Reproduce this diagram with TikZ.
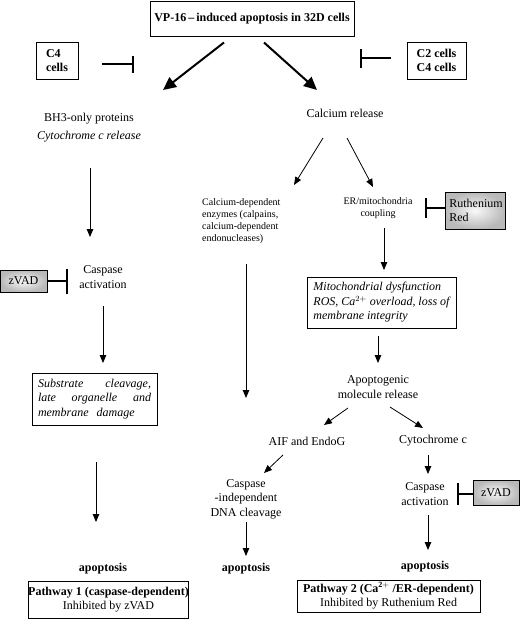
\documentclass[tikz,border=0pt]{standalone}
\usepackage{amsmath}
\usepackage{fontspec}
\setmainfont{Liberation Serif}
\usetikzlibrary{arrows.meta}

\tikzset{
  box/.style={draw, line width=0.8pt, inner sep=0pt, align=center},
  greybox/.style={draw, line width=0.8pt, inner sep=0pt, align=left,
    inner color=gray!5, outer color=gray!55},
  txt/.style={inner sep=1pt, align=center,
    font=\fontsize{12}{14.5}\selectfont},
  small/.style={inner sep=1pt,
    font=\fontsize{10}{12}\selectfont},
  bigarrow/.style={line width=2pt, -{Triangle[length=13pt,width=12pt]}},
  arrow/.style={line width=0.8pt, -{Triangle[length=8pt,width=6.5pt]}},
  inhib/.style={line width=1.4pt, -{Bar[width=#1, line width=2.3pt]}},
  inhib/.default=20pt
}

\begin{document}
\begin{tikzpicture}[x=1pt, y=-1pt, font=\fontsize{12}{14.5}\selectfont]
	\useasboundingbox (0,0) rectangle (520,619);

	% top of the scheme
	\node[box, minimum width=204, minimum height=35] (top) at (252,18.5)
	   {\textbf{VP-16\,--\,induced apoptosis in 32D cells}};
	\node[box, minimum width=42, minimum height=37, align=left] (c4) at (57,60.5)
	   {\textbf{C4}\\\textbf{cells}};
	\node[box, minimum width=59, minimum height=37, align=left] (c2) at (436.5,60.5)
	   {\textbf{C2 cells}\\\textbf{C4 cells}};

	\node[txt, font=\fontsize{12}{18}\selectfont] (bh3) at (89,128)
	   {BH3-only proteins\\\textit{Cytochrome c release}};
	\node[txt] (calc) at (345,113) {Calcium release};

	\draw[bigarrow] ([xshift=-28pt,yshift=-24pt]top.center) -- ([xshift=74pt,yshift=38pt]bh3.center);
	\draw[bigarrow] ([xshift=12pt,yshift=-24pt]top.center) -- ([xshift=-28pt,yshift=23pt]calc.center);
	\draw[inhib=17pt] ([xshift=45pt,yshift=-3.5pt]c4.center) -- ([xshift=77pt,yshift=-3.5pt]c4.center);
	\draw[inhib=19pt] ([xshift=-45.5pt,yshift=2.5pt]c2.center) -- ([xshift=-76.5pt,yshift=2.5pt]c2.center);

	% pathway 1, left
	\node[txt] (casp1) at (103,277) {Caspase\\activation};
	\node[greybox, minimum width=47, minimum height=22, align=center] (zvad1) at (23.5,281) {zVAD};
	\node[box, minimum width=125, minimum height=52, align=left,
	      text width=113, font=\fontsize{12}{14.5}\selectfont\itshape] (sub) at (94.5,399)
	   {Substrate\hfill cleavage,\\late\hfill organelle\hfill and\\membrane\ \ damage};
	\node[txt] (apo1) at (103,569) {\textbf{apoptosis}};
	\node[box, minimum width=151, minimum height=37] (path1) at (108.5,599.5)
	   {\textbf{Pathway 1 (caspase-dependent)}\\Inhibited by zVAD};

	\draw[arrow] ([xshift=1pt,yshift=-40pt]bh3.center) -- ([xshift=-13pt,yshift=40pt]casp1.center);
	\draw[inhib=25pt] (zvad1.east) -- ([xshift=44.5pt]zvad1.center);
	\draw[arrow] ([yshift=-29pt]casp1.center) -- ([xshift=8.5pt,yshift=36pt]sub.center);
	\draw[arrow] ([xshift=1.5pt,yshift=-63pt]sub.center) -- ([xshift=-7pt,yshift=47pt]apo1.center);

	% middle branch
	\node[small, anchor=west, align=left] (enz) at (201,221)
	   {Calcium-dependent\\enzymes (calpains,\\calcium-dependent\\endonucleases)};
	\node[txt] (indep) at (246,499) {Caspase\\-independent\\DNA cleavage};
	\node[txt] (apo2) at (246,569) {\textbf{apoptosis}};

	\draw[arrow] ([xshift=-22pt,yshift=-25pt]calc.center) -- ([xshift=93pt,yshift=36pt]enz.west);
	\draw[arrow] ([xshift=45pt,yshift=-43pt]enz.west) -- ([yshift=101pt]indep.center);
	\draw[arrow] ([yshift=-23pt]indep.center) -- ([yshift=13pt]apo2.center);

	% pathway 2, right
	\node[small, align=center] (er) at (378,208) {ER/mitochondria\\coupling};
	\node[greybox, minimum width=60, minimum height=37] (ruth) at (475,210.5)
	   {\,Ruthenium\\\,Red};
	\node[box, minimum width=149, minimum height=51, align=left,
	      font=\fontsize{12}{14.5}\selectfont\itshape] (mito) at (381.5,302.5)
	   {Mitochondrial dysfunction\\ROS, Ca$^{2+}$ overload, loss of\\membrane integrity};
	\node[txt] (apmol) at (378,387) {Apoptogenic\\molecule release};
	\node[txt] (aif) at (307,441) {AIF and EndoG};
	\node[txt] (cytc) at (433,441) {Cytochrome c};
	\node[txt] (casp2) at (425,494) {Caspase\\activation};
	\node[greybox, minimum width=46, minimum height=25, align=center] (zvad2) at (496,492.5) {zVAD};
	\node[txt] (apo3) at (425,567) {\textbf{apoptosis}};
	\node[box, minimum width=183, minimum height=32] (path2) at (388.5,596)
	   {\textbf{Pathway 2 (Ca$^{\mathbf{2+}}$ /ER-dependent)}\\Inhibited by Ruthenium Red};

	\draw[arrow] ([xshift=2pt,yshift=-25pt]calc.center) -- ([xshift=-5pt,yshift=21pt]er.center);
	\draw[inhib=20pt] ([yshift=2.5pt]ruth.west) -- ([xshift=-50pt,yshift=2.5pt]ruth.center);
	\draw[arrow] ([xshift=6pt,yshift=-20pt]er.center) -- ([xshift=2.5pt,yshift=32.5pt]mito.center);
	\draw[arrow] ([xshift=-3.5pt,yshift=-33.5pt]mito.center) -- ([yshift=24pt]apmol.center);
	\draw[arrow] ([xshift=-30pt,yshift=-21pt]apmol.center) -- ([xshift=17pt,yshift=16pt]aif.center);
	\draw[arrow] ([xshift=12pt,yshift=-20pt]apmol.center) -- ([xshift=-10pt,yshift=13pt]cytc.center);
	\draw[arrow] ([xshift=-24pt,yshift=-14pt]aif.center) -- ([xshift=18pt,yshift=26pt]indep.center);
	\draw[arrow] ([xshift=-5pt,yshift=-14pt]cytc.center) -- ([xshift=3pt,yshift=20pt]casp2.center);
	\draw[inhib=22pt] ([yshift=-1.5pt]zvad2.west) -- ([xshift=-39pt,yshift=-1.5pt]zvad2.center);
	\draw[arrow] ([xshift=3pt,yshift=-21pt]casp2.center) -- ([xshift=3pt,yshift=17pt]apo3.center);
\end{tikzpicture}
\end{document}
